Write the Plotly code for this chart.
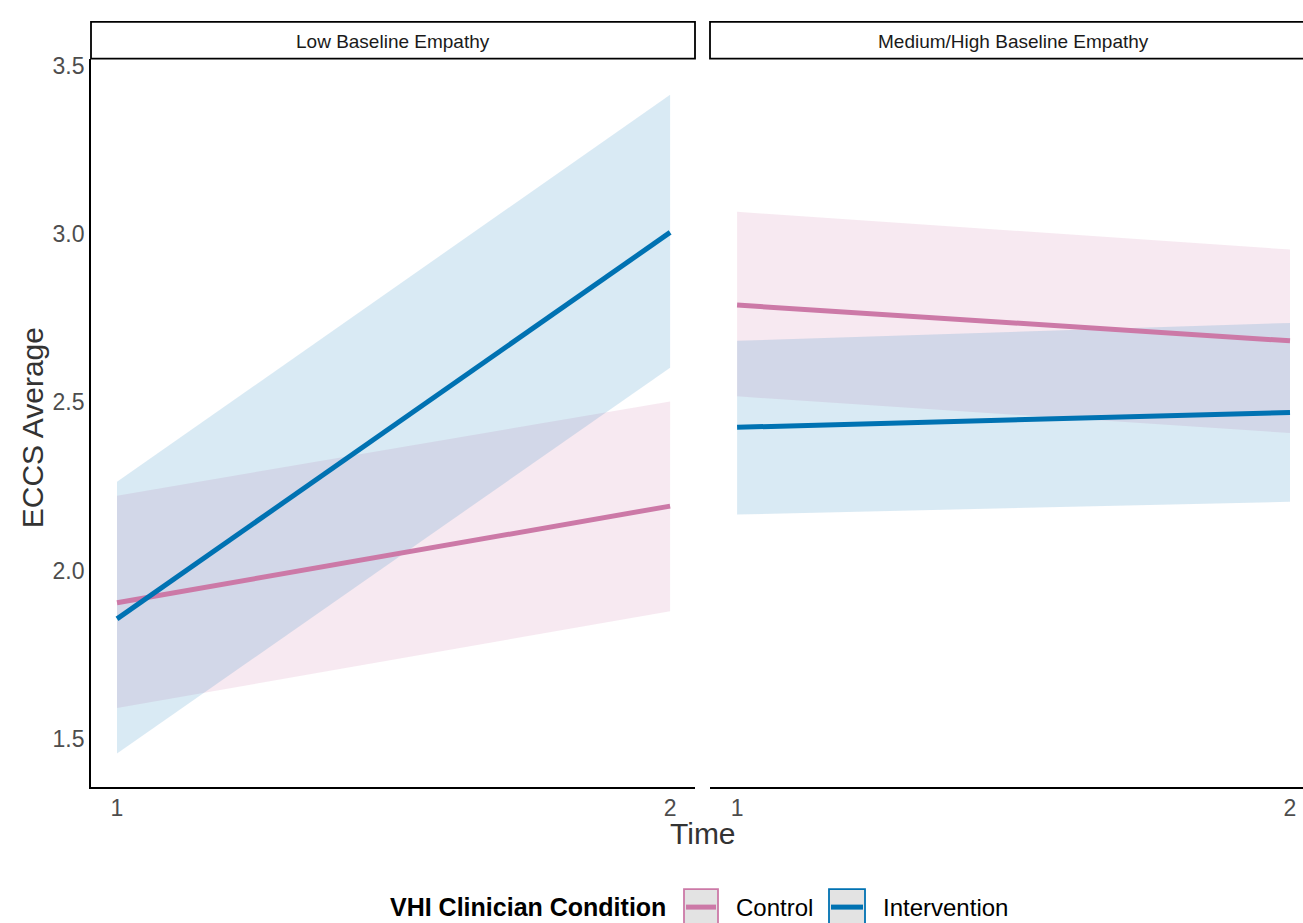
import plotly.graph_objects as go

# ---------------- data ----------------
panels = ["Low Baseline Empathy", "Medium/High Baseline Empathy"]
groups = ["Control", "Intervention"]
time_points = [1, 2]

# fitted means per panel / group  (time 1, time 2)
fit = {
    ("Low Baseline Empathy", "Control"): [1.905, 2.192],
    ("Low Baseline Empathy", "Intervention"): [1.857, 3.005],
    ("Medium/High Baseline Empathy", "Control"): [2.789, 2.683],
    ("Medium/High Baseline Empathy", "Intervention"): [2.426, 2.470],
}
lower = {
    ("Low Baseline Empathy", "Control"): [1.592, 1.880],
    ("Low Baseline Empathy", "Intervention"): [1.457, 2.603],
    ("Medium/High Baseline Empathy", "Control"): [2.518, 2.409],
    ("Medium/High Baseline Empathy", "Intervention"): [2.167, 2.205],
}
upper = {
    ("Low Baseline Empathy", "Control"): [2.223, 2.503],
    ("Low Baseline Empathy", "Intervention"): [2.264, 3.414],
    ("Medium/High Baseline Empathy", "Control"): [3.066, 2.954],
    ("Medium/High Baseline Empathy", "Intervention"): [2.683, 2.736],
}
y_ticks = [1.5, 2.0, 2.5, 3.0, 3.5]
x_ticks = [1, 2]

line_colors = {"Control": "#CC79A7", "Intervention": "#0072B2"}
fill_colors = {"Control": "rgba(204,121,167,0.16)", "Intervention": "rgba(0,114,178,0.15)"}

W, H = 1303, 923
def px(x): return x / W
def py(y): return 1 - y / H

FONT = "Liberation Sans, Arial, sans-serif"

fig = go.Figure()
axis_ids = [("x", "y"), ("x2", "y2")]
for p, (xa, ya) in zip(panels, axis_ids):
    for g in groups:
        lo, hi = lower[(p, g)], upper[(p, g)]
        fig.add_trace(go.Scatter(
            x=time_points + time_points[::-1], y=lo + hi[::-1],
            fill="toself", fillcolor=fill_colors[g], mode="none",
            line=dict(width=0), hoverinfo="skip", showlegend=False,
            xaxis=xa, yaxis=ya))
    for g in groups:
        fig.add_trace(go.Scatter(
            x=time_points, y=fit[(p, g)], mode="lines",
            line=dict(color=line_colors[g], width=5),
            name=g, showlegend=False, xaxis=xa, yaxis=ya))

plot_top, plot_bot = 53, 786
ydom = [py(plot_bot), py(plot_top)]
tickfont = dict(family=FONT, size=23, color="#4D4D4D")

fig.update_layout(
    width=W, height=H,
    margin=dict(l=0, r=0, t=0, b=0),
    paper_bgcolor="white", plot_bgcolor="white",
    showlegend=False,
    xaxis=dict(domain=[px(91), px(695)], range=[0.953, 2.045], tickvals=x_ticks,
               showgrid=False, zeroline=False, showline=True, linecolor="black",
               linewidth=1.8, ticks="", tickfont=tickfont),
    xaxis2=dict(domain=[px(710), 1.0], range=[0.951, 2.0235], tickvals=x_ticks,
                showgrid=False, zeroline=False, showline=True, linecolor="black",
                linewidth=1.8, ticks="", tickfont=tickfont),
    yaxis=dict(domain=ydom, range=[1.358, 3.521], tickvals=y_ticks, tickformat=".1f",
               showgrid=False, zeroline=False, showline=True, linecolor="black",
               linewidth=1.8, ticks="", tickfont=tickfont, anchor="x"),
    yaxis2=dict(domain=ydom, range=[1.358, 3.521], matches="y", showticklabels=False,
                showgrid=False, zeroline=False, showline=False, ticks="", anchor="x2"),
)

shapes = []
annotations = []
# facet strips
strips = [(91, 695), (710, 1320)]
strip_centers = [393, 1013]
for (x0, x1), xc, p in zip(strips, strip_centers, panels):
    shapes.append(dict(type="rect", xref="paper", yref="paper",
                       x0=px(x0), x1=px(x1), y0=py(plot_top), y1=py(16),
                       line=dict(color="black", width=1.8), fillcolor="white", layer="above"))
    annotations.append(dict(text=p, xref="paper", yref="paper", x=px(xc), y=py(36),
                            showarrow=False, font=dict(family=FONT, size=19, color="#1A1A1A"),
                            xanchor="center", yanchor="middle"))

# axis titles
annotations.append(dict(text="Time", xref="paper", yref="paper", x=px(703), y=py(833),
                        showarrow=False, font=dict(family=FONT, size=30, color="#333333"),
                        xanchor="center", yanchor="middle"))
annotations.append(dict(text="ECCS Average", xref="paper", yref="paper", x=px(32), y=py(425),
                        showarrow=False, textangle=-90,
                        font=dict(family=FONT, size=30, color="#333333"),
                        xanchor="center", yanchor="middle"))

# legend (bottom, horizontal)
leg_y = 907
annotations.append(dict(text="<b>VHI Clinician Condition</b>", xref="paper", yref="paper",
                        x=px(668), y=py(leg_y), showarrow=False, xanchor="right", yanchor="middle",
                        font=dict(family=FONT, size=25, color="black")))
key_boxes = {"Control": (684, 718), "Intervention": (829, 865)}
label_x = {"Control": 734, "Intervention": 881}
for g in groups:
    x0, x1 = key_boxes[g]
    shapes.append(dict(type="rect", xref="paper", yref="paper", x0=px(x0), x1=px(x1),
                       y0=py(930), y1=py(889), fillcolor="#E3E3E3",
                       line=dict(color=line_colors[g], width=1.8)))
    shapes.append(dict(type="line", xref="paper", yref="paper", x0=px(x0 + 2), x1=px(x1 - 2),
                       y0=py(leg_y), y1=py(leg_y),
                       line=dict(color=line_colors[g], width=5)))
    annotations.append(dict(text=g, xref="paper", yref="paper", x=px(label_x[g]), y=py(leg_y),
                            showarrow=False, xanchor="left", yanchor="middle",
                            font=dict(family=FONT, size=24, color="black")))

fig.update_layout(shapes=shapes, annotations=annotations)
fig.write_html("out.html", config={"displayModeBar": False},
               post_script="document.body.style.margin='0';document.body.style.overflow='hidden';")
